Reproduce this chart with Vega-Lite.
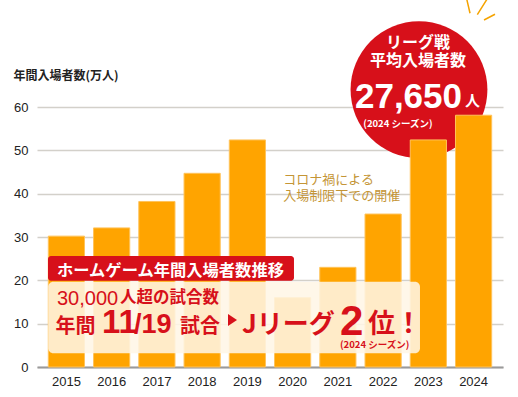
{
  "$schema": "https://vega.github.io/schema/vega-lite/v6.json",
  "width": 466,
  "height": 260,
  "autosize": {"type": "none"},
  "padding": {"left": 37, "top": 107, "right": 15, "bottom": 30},
  "background": "#ffffff",
  "config": {"view": {"stroke": null}},
  "resolve": {"scale": {"x": "independent"}, "axis": {"y": "independent"}},
  "layer": [
    {
      "data": {"values": [{"x": 2022.793, "y": 63.99}]},
      "mark": {"type": "point", "shape": "circle", "filled": true, "color": "#D7101A", "opacity": 1, "size": 18723},
      "encoding": {
        "x": {"field": "x", "type": "quantitative", "scale": {"domain": [2014.35, 2024.65]}, "axis": null},
        "y": {"field": "y", "type": "quantitative", "scale": {"domain": [0, 60]}, "axis": null}
      }
    },
    {
      "data": {"values": [
        {"year": 2015, "visitors": 30.2},
        {"year": 2016, "visitors": 32.1},
        {"year": 2017, "visitors": 38.2},
        {"year": 2018, "visitors": 44.7},
        {"year": 2019, "visitors": 52.4},
        {"year": 2020, "visitors": 16.0},
        {"year": 2021, "visitors": 23.0},
        {"year": 2022, "visitors": 35.3},
        {"year": 2023, "visitors": 52.4},
        {"year": 2024, "visitors": 58.1}
      ]},
      "mark": {"type": "bar", "color": "#FFA400", "stroke": "#FFC35A", "strokeWidth": 1},
      "encoding": {
        "x": {"field": "year", "type": "ordinal", "scale": {"paddingInner": 0.2, "paddingOuter": 0.25},
          "axis": {"title": null, "labelAngle": 0, "labelFont": "Liberation Sans", "labelFontSize": 13, "labelColor": "#222222", "labelPadding": 8, "ticks": false, "domainColor": "#9a9a9a", "domainWidth": 2, "grid": false}},
        "y": {"field": "visitors", "type": "quantitative", "scale": {"domain": [0, 60]},
          "axis": {"values": [0, 10, 20, 30, 40, 50, 60], "title": "年間入場者数(万人)", "titleAngle": 0, "titleAlign": "left", "titleBaseline": "middle", "titleX": -24, "titleY": -32, "titleFont": "Noto Sans CJK JP", "titleFontSize": 12, "titleFontWeight": "bold", "titleColor": "#222222", "labelFont": "Liberation Sans", "labelFontSize": 13, "labelColor": "#222222", "labelPadding": 9, "domain": false, "ticks": false, "grid": true, "gridColor": "#D3D0CA", "gridWidth": 1.5}}
      }
    },
    {
      "data": {"values": [{"x": 2024.164, "y": 82.39}]},
      "mark": {"type": "point", "shape": "M-15,-14L-11,3.3M8,-14L-3.7,4.7M14,4.3L3,10", "filled": false, "stroke": "#F5A300", "strokeWidth": 1.5, "opacity": 1, "size": 4},
      "encoding": {
        "x": {"field": "x", "type": "quantitative", "scale": {"domain": [2014.35, 2024.65]}, "axis": null},
        "y": {"field": "y", "type": "quantitative", "scale": {"domain": [0, 60]}, "axis": null}
      }
    },
    {
      "data": {"values": [{"x": 2022.771, "y": 74.77, "t": "リーグ戦"}, {"x": 2022.771, "y": 70.62, "t": "平均入場者数"}]},
      "mark": {"type": "text", "align": "center", "baseline": "middle", "font": "Noto Sans CJK JP", "fontSize": 16, "fontWeight": "bold", "color": "#ffffff"},
      "encoding": {
        "x": {"field": "x", "type": "quantitative", "scale": {"domain": [2014.35, 2024.65]}, "axis": null},
        "y": {"field": "y", "type": "quantitative", "scale": {"domain": [0, 60]}, "axis": null},
        "text": {"field": "t"}
      }
    },
    {
      "data": {"values": [{"x": 2023.744, "y": 59.77, "t": "27,650"}]},
      "mark": {"type": "text", "align": "right", "baseline": "alphabetic", "font": "Liberation Sans", "fontSize": 35, "fontWeight": "bold", "color": "#ffffff"},
      "encoding": {
        "x": {"field": "x", "type": "quantitative", "scale": {"domain": [2014.35, 2024.65]}, "axis": null},
        "y": {"field": "y", "type": "quantitative", "scale": {"domain": [0, 60]}, "axis": null},
        "text": {"field": "t"}
      }
    },
    {
      "data": {"values": [{"x": 2023.81, "y": 60.23, "t": "人"}]},
      "mark": {"type": "text", "align": "left", "baseline": "alphabetic", "font": "Noto Sans CJK JP", "fontSize": 15, "fontWeight": "bold", "color": "#ffffff"},
      "encoding": {
        "x": {"field": "x", "type": "quantitative", "scale": {"domain": [2014.35, 2024.65]}, "axis": null},
        "y": {"field": "y", "type": "quantitative", "scale": {"domain": [0, 60]}, "axis": null},
        "text": {"field": "t"}
      }
    },
    {
      "data": {"values": [{"x": 2021.562, "y": 56.08, "t": "(2024 シーズン)"}]},
      "mark": {"type": "text", "align": "left", "baseline": "middle", "font": "Noto Sans CJK JP", "fontSize": 9.5, "fontWeight": "bold", "color": "#ffffff"},
      "encoding": {
        "x": {"field": "x", "type": "quantitative", "scale": {"domain": [2014.35, 2024.65]}, "axis": null},
        "y": {"field": "y", "type": "quantitative", "scale": {"domain": [0, 60]}, "axis": null},
        "text": {"field": "t"}
      }
    },
    {
      "data": {"values": [{"x": 2019.794, "y": 43.15, "t": "コロナ禍による"}, {"x": 2019.794, "y": 39.53, "t": "入場制限下での開催"}]},
      "mark": {"type": "text", "align": "left", "baseline": "middle", "font": "Noto Sans CJK JP", "fontSize": 13, "color": "#C49536"},
      "encoding": {
        "x": {"field": "x", "type": "quantitative", "scale": {"domain": [2014.35, 2024.65]}, "axis": null},
        "y": {"field": "y", "type": "quantitative", "scale": {"domain": [0, 60]}, "axis": null},
        "text": {"field": "t"}
      }
    },
    {
      "data": {"values": [{"x": 2014.60, "x2": 2022.815, "y": 19.69, "y2": 3.16}]},
      "mark": {"type": "rect", "color": "#FFF6E6", "opacity": 0.87, "cornerRadius": 5},
      "encoding": {
        "x": {"field": "x", "type": "quantitative", "scale": {"domain": [2014.35, 2024.65]}, "axis": null},
        "x2": {"field": "x2"},
        "y": {"field": "y", "type": "quantitative", "scale": {"domain": [0, 60]}, "axis": null},
        "y2": {"field": "y2"}
      }
    },
    {
      "data": {"values": [{"x": 2014.593, "x2": 2020.03, "y": 25.62, "y2": 19.92}]},
      "mark": {"type": "rect", "color": "#D7101A", "opacity": 1, "cornerRadius": 3},
      "encoding": {
        "x": {"field": "x", "type": "quantitative", "scale": {"domain": [2014.35, 2024.65]}, "axis": null},
        "x2": {"field": "x2"},
        "y": {"field": "y", "type": "quantitative", "scale": {"domain": [0, 60]}, "axis": null},
        "y2": {"field": "y2"}
      }
    },
    {
      "data": {"values": [{"x": 2014.792, "y": 22.22, "t": "ホームゲーム年間入場者数推移"}]},
      "mark": {"type": "text", "align": "left", "baseline": "middle", "font": "Noto Sans CJK JP", "fontSize": 16.3, "fontWeight": "bold", "color": "#ffffff"},
      "encoding": {
        "x": {"field": "x", "type": "quantitative", "scale": {"domain": [2014.35, 2024.65]}, "axis": null},
        "y": {"field": "y", "type": "quantitative", "scale": {"domain": [0, 60]}, "axis": null},
        "text": {"field": "t"}
      }
    },
    {
      "data": {"values": [{"x": 2014.792, "y": 14.42, "t": "30,000"}]},
      "mark": {"type": "text", "align": "left", "baseline": "alphabetic", "font": "Liberation Sans", "fontSize": 20, "color": "#D7101A"},
      "encoding": {
        "x": {"field": "x", "type": "quantitative", "scale": {"domain": [2014.35, 2024.65]}, "axis": null},
        "y": {"field": "y", "type": "quantitative", "scale": {"domain": [0, 60]}, "axis": null},
        "text": {"field": "t"}
      }
    },
    {
      "data": {"values": [{"x": 2016.185, "y": 14.77, "t": "人超の試合数"}]},
      "mark": {"type": "text", "align": "left", "baseline": "alphabetic", "font": "Noto Sans CJK JP", "fontSize": 16.5, "fontWeight": "bold", "color": "#D7101A"},
      "encoding": {
        "x": {"field": "x", "type": "quantitative", "scale": {"domain": [2014.35, 2024.65]}, "axis": null},
        "y": {"field": "y", "type": "quantitative", "scale": {"domain": [0, 60]}, "axis": null},
        "text": {"field": "t"}
      }
    },
    {
      "data": {"values": [{"x": 2014.759, "y": 7.846, "t": "年間"}, {"x": 2017.511, "y": 7.846, "t": "試合"}]},
      "mark": {"type": "text", "align": "left", "baseline": "alphabetic", "font": "Noto Sans CJK JP", "fontSize": 20, "fontWeight": "bold", "color": "#D7101A"},
      "encoding": {
        "x": {"field": "x", "type": "quantitative", "scale": {"domain": [2014.35, 2024.65]}, "axis": null},
        "y": {"field": "y", "type": "quantitative", "scale": {"domain": [0, 60]}, "axis": null},
        "text": {"field": "t"}
      }
    },
    {
      "data": {"values": [{"x": 2015.787, "y": 7.846, "t": "11"}]},
      "mark": {"type": "text", "align": "left", "baseline": "alphabetic", "font": "Liberation Sans", "fontSize": 33, "fontWeight": "bold", "color": "#D7101A"},
      "encoding": {
        "x": {"field": "x", "type": "quantitative", "scale": {"domain": [2014.35, 2024.65]}, "axis": null},
        "y": {"field": "y", "type": "quantitative", "scale": {"domain": [0, 60]}, "axis": null},
        "text": {"field": "t"}
      }
    },
    {
      "data": {"values": [{"x": 2016.494, "y": 7.846, "t": "/19"}]},
      "mark": {"type": "text", "align": "left", "baseline": "alphabetic", "font": "Liberation Sans", "fontSize": 27, "fontWeight": "bold", "color": "#D7101A"},
      "encoding": {
        "x": {"field": "x", "type": "quantitative", "scale": {"domain": [2014.35, 2024.65]}, "axis": null},
        "y": {"field": "y", "type": "quantitative", "scale": {"domain": [0, 60]}, "axis": null},
        "text": {"field": "t"}
      }
    },
    {
      "data": {"values": [{"x": 2018.66, "y": 10.85}]},
      "mark": {"type": "point", "shape": "M-4,-6L5,0L-4,6Z", "filled": true, "color": "#D7101A", "opacity": 1, "size": 4},
      "encoding": {
        "x": {"field": "x", "type": "quantitative", "scale": {"domain": [2014.35, 2024.65]}, "axis": null},
        "y": {"field": "y", "type": "quantitative", "scale": {"domain": [0, 60]}, "axis": null}
      }
    },
    {
      "data": {"values": [{"x": 2018.881, "y": 7.846, "t": "Jリーグ"}]},
      "mark": {"type": "text", "align": "left", "baseline": "alphabetic", "font": "Noto Sans CJK JP", "fontSize": 26, "fontWeight": "bold", "color": "#D7101A"},
      "encoding": {
        "x": {"field": "x", "type": "quantitative", "scale": {"domain": [2014.35, 2024.65]}, "axis": null},
        "y": {"field": "y", "type": "quantitative", "scale": {"domain": [0, 60]}, "axis": null},
        "text": {"field": "t"}
      }
    },
    {
      "data": {"values": [{"x": 2021.047, "y": 7.385, "t": "2"}]},
      "mark": {"type": "text", "align": "left", "baseline": "alphabetic", "font": "Liberation Sans", "fontSize": 42, "fontWeight": "bold", "color": "#D7101A"},
      "encoding": {
        "x": {"field": "x", "type": "quantitative", "scale": {"domain": [2014.35, 2024.65]}, "axis": null},
        "y": {"field": "y", "type": "quantitative", "scale": {"domain": [0, 60]}, "axis": null},
        "text": {"field": "t"}
      }
    },
    {
      "data": {"values": [{"x": 2021.666, "y": 7.846, "t": "位！"}]},
      "mark": {"type": "text", "align": "left", "baseline": "alphabetic", "font": "Noto Sans CJK JP", "fontSize": 27, "fontWeight": "bold", "color": "#D7101A"},
      "encoding": {
        "x": {"field": "x", "type": "quantitative", "scale": {"domain": [2014.35, 2024.65]}, "axis": null},
        "y": {"field": "y", "type": "quantitative", "scale": {"domain": [0, 60]}, "axis": null},
        "text": {"field": "t"}
      }
    },
    {
      "data": {"values": [{"x": 2021.047, "y": 5.077, "t": "(2024 シーズン)"}]},
      "mark": {"type": "text", "align": "left", "baseline": "middle", "font": "Noto Sans CJK JP", "fontSize": 9.5, "fontWeight": "bold", "color": "#D7101A"},
      "encoding": {
        "x": {"field": "x", "type": "quantitative", "scale": {"domain": [2014.35, 2024.65]}, "axis": null},
        "y": {"field": "y", "type": "quantitative", "scale": {"domain": [0, 60]}, "axis": null},
        "text": {"field": "t"}
      }
    }
  ]
}
